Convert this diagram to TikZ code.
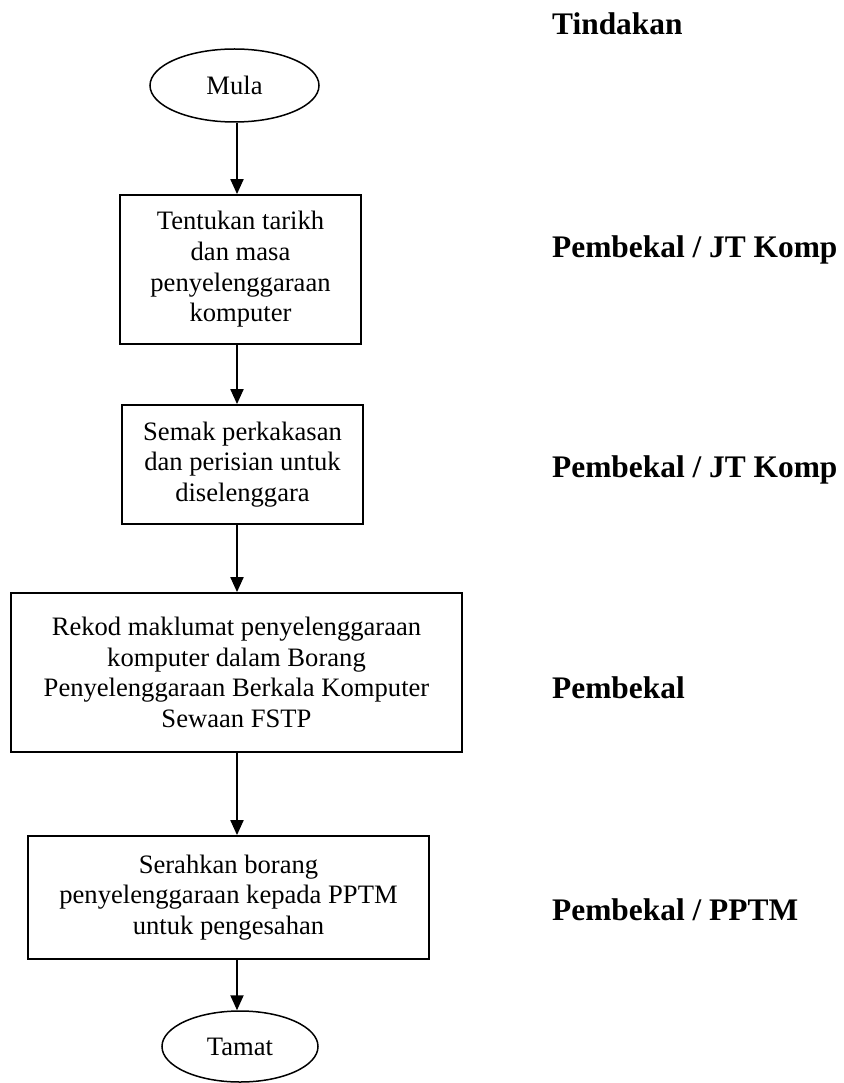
\documentclass[tikz,border=0pt]{standalone}
\usepackage{fontspec}
\setmainfont{Liberation Serif}
\usetikzlibrary{shapes.geometric,arrows.meta}
\tikzset{
  boxtext/.style={font=\fontsize{26.6}{30.6}\selectfont, align=center, inner sep=0pt},
  procbox/.style={boxtext, draw, line width=1.8pt, rectangle},
  termnode/.style={boxtext, draw, line width=1.5pt, ellipse},
  flowarrow/.style={line width=2pt, -{Triangle[length=15pt,width=13pt]}},
  actlabel/.style={font=\fontsize{31.4}{36}\selectfont\bfseries, anchor=base west, inner sep=0pt},
}
\begin{document}
\begin{tikzpicture}[x=1pt,y=-1pt]
\useasboundingbox (0,0) rectangle (843,1083);
\coordinate (col) at (237,0);
\node[termnode, minimum width=169pt, minimum height=73pt] (mula) at (234.5,85.5) {Mula};
\node[procbox, minimum width=241pt, minimum height=149pt] (b1) at (240.5,269.5) {Tentukan tarikh\\dan masa\\penyelenggaraan\\komputer};
\node[procbox, minimum width=241pt, minimum height=119pt] (b2) at (242.5,464.5) {Semak perkakasan\\dan perisian untuk\\diselenggara};
\node[procbox, minimum width=451pt, minimum height=159pt] (b3) at (236.5,672.5) {Rekod maklumat penyelenggaraan\\komputer dalam Borang\\Penyelenggaraan Berkala Komputer\\Sewaan FSTP};
\node[procbox, minimum width=401pt, minimum height=123pt] (b4) at (228.5,897.5) {Serahkan borang\\penyelenggaraan kepada PPTM\\untuk pengesahan};
\node[termnode, minimum width=156pt, minimum height=71pt] (tamat) at (240,1046.5) {Tamat};

\draw[flowarrow] (mula.south -| col) -- (b1.north -| col);
\draw[flowarrow] (b1.south -| col) -- (b2.north -| col);
\draw[flowarrow] (b2.south -| col) -- (b3.north -| col);
\draw[flowarrow] (b3.south -| col) -- (b4.north -| col);
\draw[flowarrow] (b4.south -| col) -- (tamat.north -| col);

\node[actlabel] (l0) at (552,35) {Tindakan};
\node[actlabel] (l1) at (552,257) {Pembekal / JT Komp};
\node[actlabel] (l2) at (552,477) {Pembekal / JT Komp};
\node[actlabel] (l3) at (552,698) {Pembekal};
\node[actlabel] (l4) at (552,920) {Pembekal / PPTM};
\end{tikzpicture}
\end{document}
